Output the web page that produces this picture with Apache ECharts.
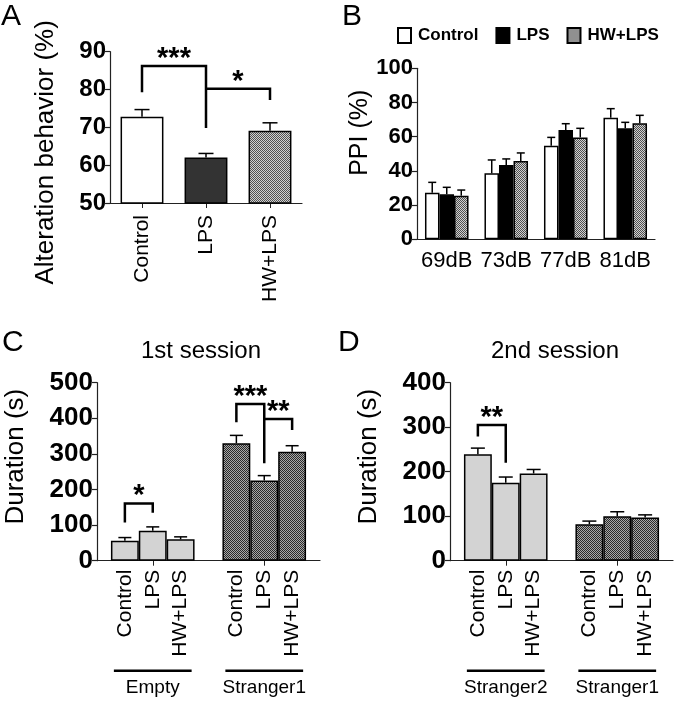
<!DOCTYPE html>
<html><head><meta charset="utf-8">
<script src="https://cdn.jsdelivr.net/npm/echarts@6/dist/echarts.min.js"></script>
<style>html,body{margin:0;padding:0;background:#fff}#c{width:675px;height:701px}</style>
</head><body><div id="c"></div>
<script>
// ---------- Panel A ----------
const aCategories = ['Control', 'LPS', 'HW+LPS'];
const aValues = [72.8, 62.0, 69.1];
const aErrors = [1.9, 1.1, 2.1];
const aSigPairs = [[0, 1, 86.2, 79.3, 69.8], [1, 2, 80.2, 80.2, 77.2]];
const aSigLabels = ['***', '*'];

// ---------- Panel B ----------
const bCategories = ['69dB', '73dB', '77dB', '81dB'];
const bControl = [27.2, 38.6, 54.7, 71.1];
const bControlErr = [6.1, 7.8, 4.9, 5.3];
const bLPS = [26.3, 43.5, 63.9, 64.9];
const bLPSErr = [4.1, 3.5, 3.7, 3.5];
const bHWLPS = [25.5, 45.8, 59.6, 67.8];
const bHWLPSErr = [3.3, 4.7, 5.3, 4.7];
const bLegend = ['Control', 'LPS', 'HW+LPS'];

// ---------- Panel C / D ----------
const groupCategories = ['Control', 'LPS', 'HW+LPS'];
const cEmpty = [56, 84, 60];
const cEmptyErr = [9, 11, 7];
const cStranger1 = [330, 225, 306];
const cStranger1Err = [22, 14, 17];
const cGroups = ['Empty', 'Stranger1'];
const cSigPairs = [[1, 2, 161, 107, 135], [5, 6, 440, 389, 274], [6, 7, 398, 398, 367]];
const cSigLabels = ['*', '***', '**'];

const dStranger2 = [239, 175, 196];
const dStranger2Err = [14, 13, 9];
const dStranger1 = [82, 100, 97];
const dStranger1Err = [7, 10, 6];
const dGroups = ['Stranger2', 'Stranger1'];
const dSigPairs = [[1, 2, 305, 279, 220]];
const dSigLabels = ['**'];

const FONT = 'Liberation Sans, Arial, Helvetica, sans-serif';

function checker(c1, c2) {
  const cv = document.createElement('canvas');
  cv.width = 2; cv.height = 2;
  const ctx = cv.getContext('2d');
  ctx.fillStyle = c1; ctx.fillRect(0, 0, 2, 2);
  ctx.fillStyle = c2; ctx.fillRect(0, 0, 1, 1); ctx.fillRect(1, 1, 1, 1);
  return { image: cv, repeat: 'repeat' };
}
const patLight = checker('#d0d0d0', '#505050');
const patDark = checker('#a8a8a8', '#2a2a2a');

const border = { borderColor: '#000', borderWidth: 1.5 };

function errRender(capW, offFrac) {
  return function (params, api) {
    const x = api.value(0), v = api.value(1), e = api.value(2);
    const p1 = api.coord([x, v]);
    const p2 = api.coord([x, v + e]);
    let dx = 0;
    if (offFrac) dx = api.value(3) * api.size([1, 0])[0] * offFrac;
    const cx = p1[0] + dx;
    return {
      type: 'group', children: [
        { type: 'line', shape: { x1: cx, y1: p1[1], x2: cx, y2: p2[1] }, style: { stroke: '#000', lineWidth: 1.5 } },
        { type: 'line', shape: { x1: cx - capW / 2, y1: p2[1], x2: cx + capW / 2, y2: p2[1] }, style: { stroke: '#000', lineWidth: 1.5 } }
      ]
    };
  };
}

function sigRender(labels) {
  return function (params, api) {
    const x1 = api.value(0), x2 = api.value(1);
    const yt = api.value(2), y1 = api.value(3), y2 = api.value(4);
    const a = api.coord([x1, y1]), b = api.coord([x1, yt]), c = api.coord([x2, yt]), d = api.coord([x2, y2]);
    return {
      type: 'group', children: [
        { type: 'polyline', shape: { points: [a, b, c, d] }, style: { stroke: '#000', lineWidth: 2.5, fill: null } },
        { type: 'text', x: (b[0] + c[0]) / 2, y: b[1] - 7, style: { text: labels[params.dataIndex], fill: '#000', font: 'bold 29px ' + FONT, align: 'center', verticalAlign: 'middle' } }
      ]
    };
  };
}

function groupRender(names) {
  return function (params, api) {
    const s = api.coord([api.value(0), 0]), e = api.coord([api.value(1), 0]);
    return {
      type: 'group', children: [
        { type: 'line', shape: { x1: s[0] - 11, y1: s[1] + 110, x2: e[0] + 11, y2: s[1] + 110 }, style: { stroke: '#000', lineWidth: 2.5 } },
        { type: 'text', x: (s[0] + e[0]) / 2, y: s[1] + 127, style: { text: names[params.dataIndex], fill: '#000', font: '19px ' + FONT, align: 'center', verticalAlign: 'middle' } }
      ]
    };
  };
}

// build data
const aFill = ['#ffffff', '#333333', patLight];
const aData = aValues.map((v, i) => ({ value: v, itemStyle: Object.assign({ color: aFill[i] }, border) }));
const aErrData = aValues.map((v, i) => [i, v, aErrors[i]]);

const bSeriesVals = [bControl, bLPS, bHWLPS];
const bSeriesErr = [bControlErr, bLPSErr, bHWLPSErr];
const bFill = ['#ffffff', '#000000', patLight];
const bErrData = [];
bSeriesVals.forEach((arr, s) => arr.forEach((v, i) => bErrData.push([i, v, bSeriesErr[s][i], s - 1])));

const cdLabels = [''].concat(groupCategories, [''], groupCategories, ['']);
function cdBars(g1, g2) {
  const d = ['-'];
  g1.forEach(v => d.push({ value: v, itemStyle: Object.assign({ color: '#d3d3d3' }, border) }));
  d.push('-');
  g2.forEach(v => d.push({ value: v, itemStyle: Object.assign({ color: patDark }, border) }));
  d.push('-');
  return d;
}
function cdErr(g1, e1, g2, e2) {
  const d = [];
  g1.forEach((v, i) => d.push([i + 1, v, e1[i]]));
  g2.forEach((v, i) => d.push([i + 5, v, e2[i]]));
  return d;
}

const axisLineStyle = { show: true, lineStyle: { color: '#222', width: 1.2 } };
function yAxis(grid, min, max, interval, name, gap, fs, nameFs, namePad) {
  return {
    type: 'value', gridIndex: grid, min: min, max: max, interval: interval,
    name: name, nameLocation: 'middle', nameGap: gap, nameRotate: 90,
    nameTextStyle: { fontSize: nameFs, color: '#000', fontFamily: FONT, padding: namePad },
    axisLine: axisLineStyle,
    axisTick: { show: true, length: 5, lineStyle: { color: '#222', width: 1.2 } },
    splitLine: { show: false },
    axisLabel: { fontSize: fs, fontWeight: 'bold', color: '#000', fontFamily: FONT, margin: 4 }
  };
}

const letterStyle = { fontSize: 30, fontWeight: 'normal', color: '#000', fontFamily: FONT };
const chart = echarts.init(document.getElementById('c'), null, { renderer: 'canvas' });
chart.setOption({
  backgroundColor: '#fff',
  animation: false,
  title: [
    { text: 'A', left: 1, top: 2, padding: 0, textStyle: letterStyle },
    { text: 'B', left: 342, top: 2, padding: 0, textStyle: letterStyle },
    { text: 'C', left: 2, top: 328, padding: 0, textStyle: letterStyle },
    { text: 'D', left: 338, top: 328, padding: 0, textStyle: letterStyle },
    { text: '1st session', left: 201, top: 339, padding: 0, textAlign: 'center', textStyle: { fontSize: 24, fontWeight: 'normal', color: '#000', fontFamily: FONT } },
    { text: '2nd session', left: 555, top: 339, padding: 0, textAlign: 'center', textStyle: { fontSize: 24, fontWeight: 'normal', color: '#000', fontFamily: FONT } }
  ],
  legend: {
    data: bLegend, left: 397, top: 27, padding: 0, itemWidth: 13, itemHeight: 15, itemGap: 17,
    icon: 'rect', selectedMode: false,
    textStyle: { fontSize: 17, fontWeight: 'bold', color: '#000', fontFamily: FONT, padding: [0, 0, 0, 2] }
  },
  grid: [
    { left: 110, top: 51.7, width: 192, height: 151.3 },
    { left: 417, top: 68.3, width: 238, height: 171 },
    { left: 97, top: 382.7, width: 223, height: 178 },
    { left: 450, top: 382.7, width: 223, height: 178 }
  ],
  xAxis: [
    {
      type: 'category', gridIndex: 0, data: aCategories, boundaryGap: true,
      axisLine: axisLineStyle, axisTick: { show: true, alignWithLabel: true, length: 5, lineStyle: { color: '#222' } },
      axisLabel: { rotate: 90, fontSize: 21, color: '#000', fontFamily: FONT, margin: 12, interval: 0 }
    },
    {
      type: 'category', gridIndex: 1, data: bCategories, boundaryGap: true,
      axisLine: axisLineStyle, axisTick: { show: false },
      axisLabel: { fontSize: 22, color: '#000', fontFamily: FONT, margin: 11, interval: 0 }
    },
    {
      type: 'category', gridIndex: 2, data: cdLabels, boundaryGap: false,
      axisLine: axisLineStyle, axisTick: { show: true, length: 5, interval: (i) => i === 2 || i === 6, lineStyle: { color: '#222' } },
      axisLabel: { rotate: 90, fontSize: 21, color: '#000', fontFamily: FONT, margin: 9, interval: 0 }
    },
    {
      type: 'category', gridIndex: 3, data: cdLabels, boundaryGap: false,
      axisLine: axisLineStyle, axisTick: { show: true, length: 5, interval: (i) => i === 2 || i === 6, lineStyle: { color: '#222' } },
      axisLabel: { rotate: 90, fontSize: 21, color: '#000', fontFamily: FONT, margin: 9, interval: 0 }
    }
  ],
  yAxis: [
    yAxis(0, 50, 90, 10, 'Alteration behavior (%)', 51, 24, 26, [0, 50, 0, 0]),
    yAxis(1, 0, 100, 20, 'PPI (%)', 40, 22, 25, [0, 0, 0, 42]),
    yAxis(2, 0, 500, 100, 'Duration (s)', 68, 26, 26, [0, 0, 0, 30]),
    yAxis(3, 0, 400, 100, 'Duration (s)', 68, 26, 26, [0, 0, 0, 30])
  ],
  series: [
    { type: 'bar', name: 'A', xAxisIndex: 0, yAxisIndex: 0, barWidth: '67%', data: aData },
    { type: 'custom', xAxisIndex: 0, yAxisIndex: 0, z: 5, renderItem: errRender(15, 0), data: aErrData },
    { type: 'custom', xAxisIndex: 0, yAxisIndex: 0, z: 5, renderItem: sigRender(aSigLabels), data: aSigPairs },

    { type: 'bar', name: bLegend[0], xAxisIndex: 1, yAxisIndex: 1, barWidth: '24.4%', barGap: '0%', data: bControl, itemStyle: Object.assign({ color: bFill[0] }, border) },
    { type: 'bar', name: bLegend[1], xAxisIndex: 1, yAxisIndex: 1, barWidth: '24.4%', barGap: '0%', data: bLPS, itemStyle: Object.assign({ color: bFill[1] }, border) },
    { type: 'bar', name: bLegend[2], xAxisIndex: 1, yAxisIndex: 1, barWidth: '24.4%', barGap: '0%', data: bHWLPS, itemStyle: Object.assign({ color: bFill[2] }, border) },
    { type: 'custom', xAxisIndex: 1, yAxisIndex: 1, z: 5, renderItem: errRender(8, 0.244), data: bErrData },

    { type: 'bar', name: 'C', xAxisIndex: 2, yAxisIndex: 2, barWidth: '100%', data: cdBars(cEmpty, cStranger1) },
    { type: 'custom', xAxisIndex: 2, yAxisIndex: 2, z: 5, renderItem: errRender(13, 0), data: cdErr(cEmpty, cEmptyErr, cStranger1, cStranger1Err) },
    { type: 'custom', xAxisIndex: 2, yAxisIndex: 2, z: 5, renderItem: sigRender(cSigLabels), data: cSigPairs },
    { type: 'custom', xAxisIndex: 2, yAxisIndex: 2, z: 5, clip: false, renderItem: groupRender(cGroups), data: [[1, 3], [5, 7]] },

    { type: 'bar', name: 'D', xAxisIndex: 3, yAxisIndex: 3, barWidth: '100%', data: cdBars(dStranger2, dStranger1) },
    { type: 'custom', xAxisIndex: 3, yAxisIndex: 3, z: 5, renderItem: errRender(14, 0), data: cdErr(dStranger2, dStranger2Err, dStranger1, dStranger1Err) },
    { type: 'custom', xAxisIndex: 3, yAxisIndex: 3, z: 5, renderItem: sigRender(dSigLabels), data: dSigPairs },
    { type: 'custom', xAxisIndex: 3, yAxisIndex: 3, z: 5, clip: false, renderItem: groupRender(dGroups), data: [[1, 3], [5, 7]] }
  ]
});
</script>
</body></html>
